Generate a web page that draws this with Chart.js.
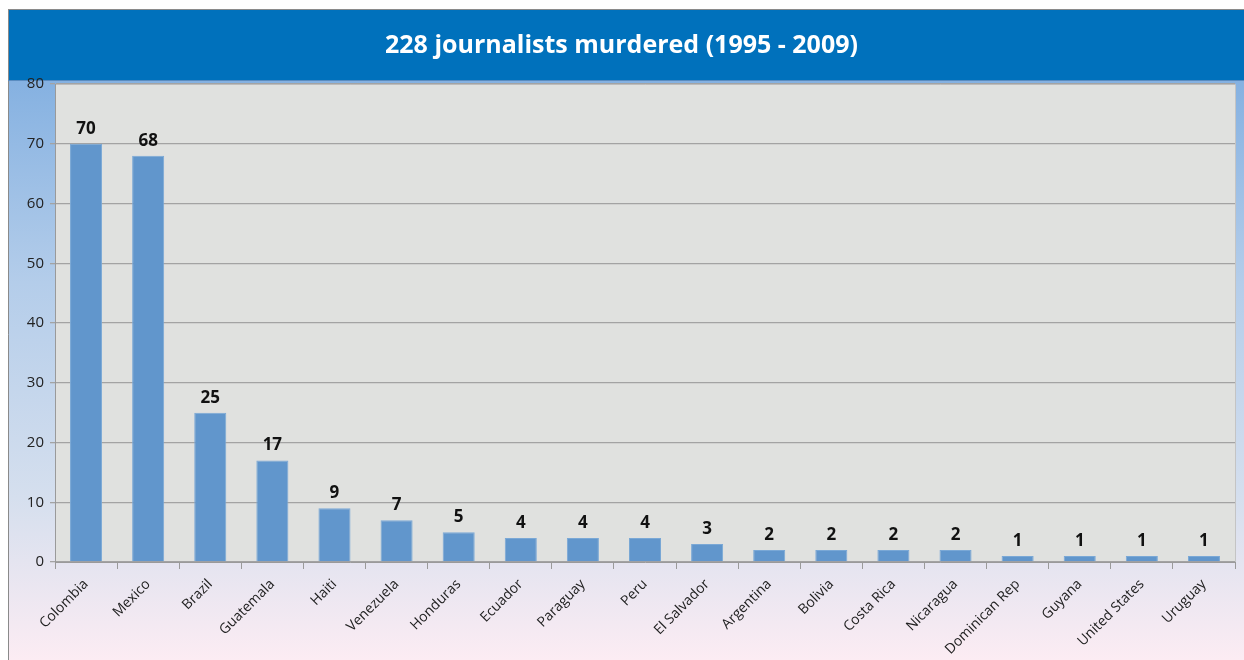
<!DOCTYPE html>
<html>
<head>
<meta charset="utf-8">
<script src="https://cdn.jsdelivr.net/npm/chart.js@4.4.1/dist/chart.umd.min.js"></script>
<style>
  html, body { margin: 0; padding: 0; background: #ffffff; }
  #wrap { width: 1244px; height: 660px; }
</style>
</head>
<body>
<div id="wrap"><canvas id="c" width="1244" height="660"></canvas></div>
<script>
const titleText = "228 journalists murdered (1995 - 2009)";
const countries = ["Colombia", "Mexico", "Brazil", "Guatemala", "Haiti", "Venezuela", "Honduras", "Ecuador", "Paraguay", "Peru", "El Salvador", "Argentina", "Bolivia", "Costa Rica", "Nicaragua", "Dominican Rep", "Guyana", "United States", "Uruguay"];
const murdered = [70, 68, 25, 17, 9, 7, 5, 4, 4, 4, 3, 2, 2, 2, 2, 1, 1, 1, 1];
const yTicks = [0, 10, 20, 30, 40, 50, 60, 70, 80];

const backgroundPlugin = {
  id: 'bgPanel',
  beforeDraw(chart) {
    const ctx = chart.ctx;
    const W = chart.width, H = chart.height;
    ctx.save();
    ctx.fillStyle = '#ffffff';
    ctx.fillRect(0, 0, W, H);
    const g = ctx.createLinearGradient(0, 80, 0, H);
    g.addColorStop(0, '#85b1e1');
    g.addColorStop(0.35, '#b4cdea');
    g.addColorStop(0.72, '#d5dfee');
    g.addColorStop(1, '#fcecf3');
    ctx.fillStyle = g;
    ctx.fillRect(8, 80, W - 8, H - 80);
    ctx.fillStyle = '#0071bc';
    ctx.fillRect(8, 9, W - 8, 71);
    ctx.strokeStyle = '#8a8a8a';
    ctx.lineWidth = 1;
    ctx.beginPath();
    ctx.moveTo(8, 9.5); ctx.lineTo(W, 9.5);
    ctx.moveTo(8.5, 9); ctx.lineTo(8.5, H);
    ctx.stroke();
    ctx.strokeStyle = '#5a8cc0';
    ctx.beginPath();
    ctx.moveTo(8, 80.5); ctx.lineTo(W, 80.5);
    ctx.stroke();
    const a = chart.chartArea;
    ctx.fillStyle = '#e0e1df';
    ctx.fillRect(a.left, a.top, a.right - a.left, a.bottom - a.top);
    ctx.strokeStyle = '#c4c4c4';
    ctx.beginPath();
    ctx.moveTo(a.left, a.top + 0.5); ctx.lineTo(a.right + 0.5, a.top + 0.5); ctx.lineTo(a.right + 0.5, a.bottom);
    ctx.stroke();
    ctx.restore();
  }
};

const valueLabelPlugin = {
  id: 'valueLabels',
  afterDatasetsDraw(chart) {
    const ctx = chart.ctx;
    const meta = chart.getDatasetMeta(0);
    ctx.save();
    ctx.font = 'bold 17px "Open Sans", sans-serif';
    ctx.fillStyle = '#111111';
    ctx.textAlign = 'center';
    ctx.textBaseline = 'alphabetic';
    meta.data.forEach((bar, i) => {
      ctx.fillText(String(chart.data.datasets[0].data[i]), bar.x, bar.y - 10);
    });
    ctx.restore();
  }
};

new Chart(document.getElementById('c'), {
  type: 'bar',
  data: {
    labels: countries,
    datasets: [{
      data: murdered,
      backgroundColor: '#6196cc',
      borderColor: '#7aa8d6',
      borderWidth: 1,
      barPercentage: 0.6,
      categoryPercentage: 0.86
    }]
  },
  options: {
    responsive: false,
    animation: false,
    devicePixelRatio: 1,
    layout: { padding: { left: 8, right: 9, top: 0, bottom: 0 } },
    plugins: {
      legend: { display: false },
      tooltip: { enabled: false },
      title: {
        display: true,
        text: titleText,
        color: '#ffffff',
        font: { family: '"Open Sans", sans-serif', size: 25, weight: 'bold', lineHeight: 1.2 },
        padding: { top: 31, bottom: 23 }
      }
    },
    scales: {
      x: {
        grid: { display: true, offset: true, drawOnChartArea: false, drawTicks: true, tickLength: 7, color: '#9a9a9a' },
        border: { display: true, color: '#9a9a9a', width: 1 },
        ticks: {
          autoSkip: false,
          maxRotation: 45,
          minRotation: 45,
          color: '#222222',
          padding: 7,
          font: { family: '"Open Sans", sans-serif', size: 14 }
        },
        afterFit(s) { s.height = 98; }
      },
      y: {
        min: 0,
        max: 80,
        afterBuildTicks(s) { s.ticks = yTicks.map(v => ({ value: v })); },
        grid: { color: '#a3a3a3', lineWidth: 1.3, tickLength: 5, drawTicks: true },
        border: { display: true, color: '#9a9a9a', width: 1 },
        ticks: {
          color: '#222222',
          padding: 6,
          font: { family: '"Open Sans", sans-serif', size: 15 }
        },
        afterFit(s) { s.width = 47; }
      }
    }
  },
  plugins: [backgroundPlugin, valueLabelPlugin]
});
</script>
</body>
</html>
